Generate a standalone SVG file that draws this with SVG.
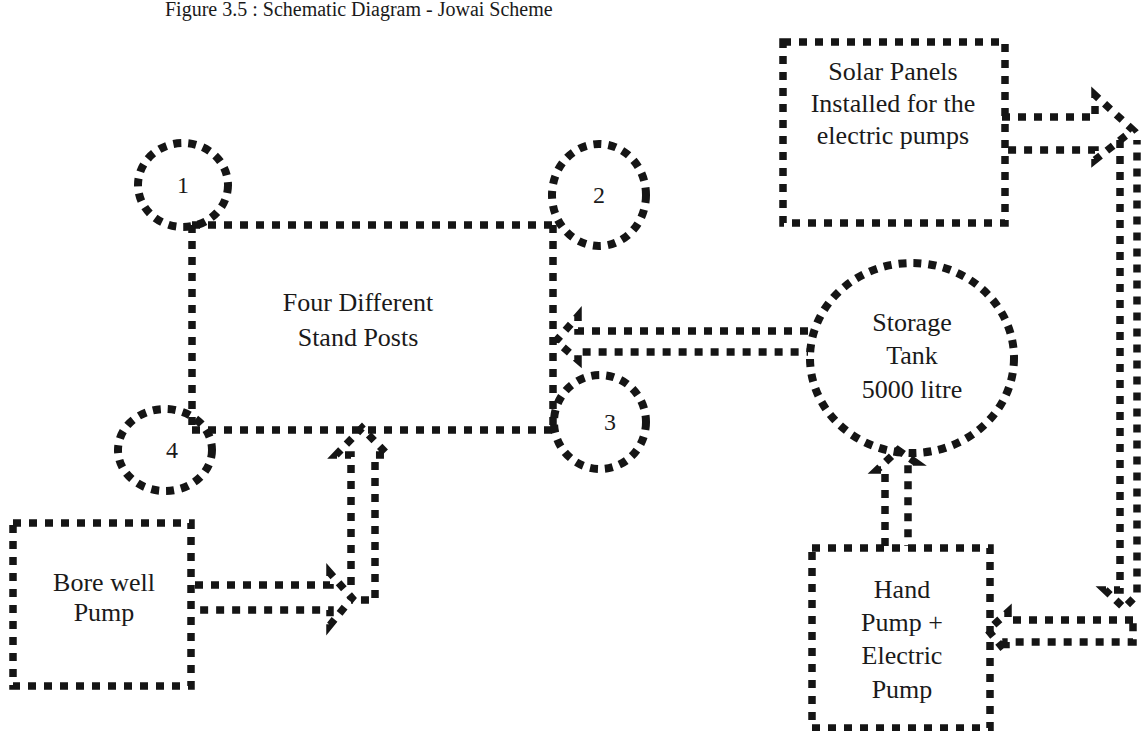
<svg xmlns="http://www.w3.org/2000/svg" width="1142" height="731" viewBox="0 0 1142 731">
<style>
.d{fill:none;stroke:#151515;stroke-width:7.5;stroke-dasharray:8 8;}
.c{fill:none;stroke:#151515;stroke-width:8;stroke-dasharray:8 7;}
.t{font-family:"Liberation Serif",serif;font-size:26px;fill:#1a1a1a;text-anchor:middle;}
.n{font-family:"Liberation Serif",serif;font-size:24px;fill:#1a1a1a;text-anchor:middle;}
.cap{font-family:"Liberation Serif",serif;font-size:20px;fill:#1a1a1a;}
</style>
<rect width="1142" height="731" fill="#fff"/>
<text class="cap" x="165" y="16">Figure 3.5 : Schematic Diagram - Jowai Scheme</text>
<g id="connectors">
<path class="d" d="M192,225 H553"/>
<path class="d" d="M192,225 V430"/>
<path class="d" d="M192,430 H553"/>
<path class="d" d="M553,225 V430"/>
<path id="arrow-tank" class="d" d="M808,331 H578 V316 L556,341 L578,360 V352 H808"/>
<path id="arrow-bore" class="d" d="M195,585 H330 V573 L352,598 L330,625 V610 H195"/>
<path id="arrow-up-bore" class="d" d="M351,585 V455 H336 L362,428 L388,455 H375 V600 H351"/>
<path id="arrow-solar" class="d" d="M1002,117 H1095 V95 L1133,130 L1095,160 V150 H1002"/>
<path id="arrow-down" class="d" d="M1120,140 V590 H1105 L1124,608 L1137,595 V140"/>
<path id="arrow-hand" class="d" d="M1133,620 H1008 V612 L988,630 L1006,652 V642 H1133 Z"/>
<path id="arrow-up-hand" class="d" d="M885,546 V470 H877 L898,450 L915,462 H908 V546"/>
</g>
<g id="n1"><ellipse class="c" cx="183" cy="185" rx="45" ry="42"/><text class="n" x="183" y="193">1</text></g>
<g id="n2"><ellipse class="c" cx="599" cy="195" rx="47" ry="51"/><text class="n" x="599" y="203">2</text></g>
<g id="n3"><ellipse class="c" cx="600" cy="422" rx="46" ry="47"/><text class="n" x="610" y="430">3</text></g>
<g id="n4"><ellipse class="c" cx="165" cy="450" rx="47" ry="41"/><text class="n" x="172" y="458">4</text></g>
<g id="standposts"><text class="t" x="358" y="311">Four Different</text><text class="t" x="358" y="346">Stand Posts</text></g>
<g id="tank"><ellipse class="c" cx="912" cy="358" rx="102" ry="95"/><text class="t" x="912" y="331">Storage</text><text class="t" x="912" y="364">Tank</text><text class="t" x="912" y="398">5000 litre</text></g>
<g id="solar"><rect class="d" x="783" y="42" width="222" height="181"/><text class="t" x="893" y="80">Solar Panels</text><text class="t" x="893" y="112">Installed for the</text><text class="t" x="893" y="144">electric pumps</text></g>
<g id="bore"><rect class="d" x="13" y="523" width="178" height="163"/><text class="t" x="104" y="591">Bore well</text><text class="t" x="104" y="621">Pump</text></g>
<g id="hand"><rect class="d" x="812" y="548" width="178" height="180"/><text class="t" x="902" y="598">Hand</text><text class="t" x="902" y="631">Pump +</text><text class="t" x="902" y="664">Electric</text><text class="t" x="902" y="698">Pump</text></g>
</svg>
